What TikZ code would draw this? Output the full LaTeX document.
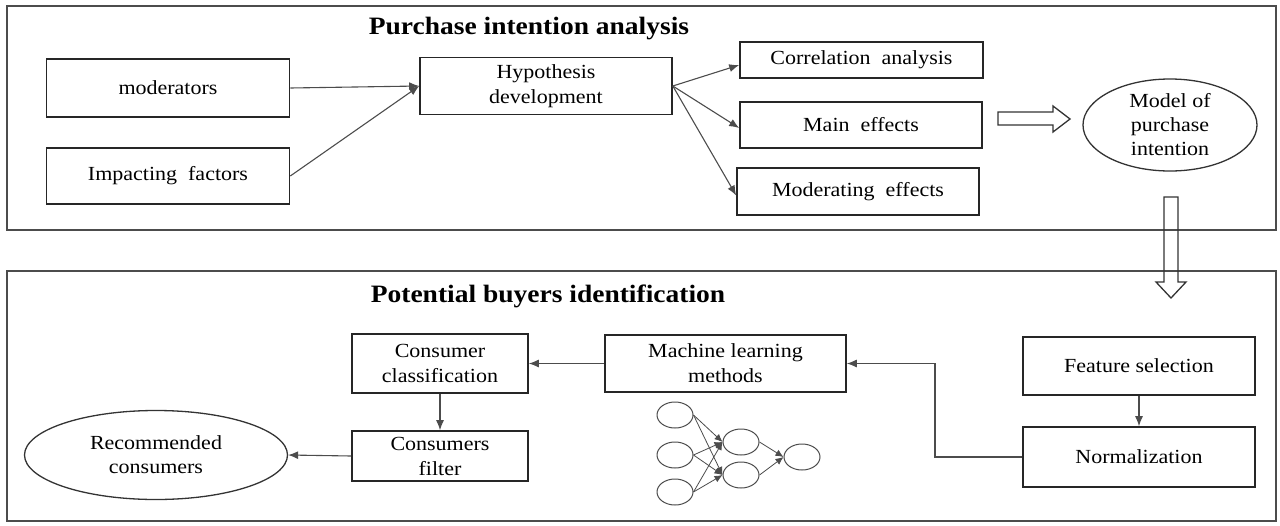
\documentclass[tikz,border=0pt]{standalone}
\usepackage{fontspec}
\setmainfont{Liberation Serif}[FakeStretch=1.1]
\usetikzlibrary{shapes.geometric,arrows.meta}
\begin{document}
\begin{tikzpicture}[x=1pt,y=-1pt,
  box/.style={draw=black!85,line width=1.6pt,fill=white,inner sep=2pt,align=center,font=\fontsize{20}{25}\selectfont},
  oval/.style={ellipse,draw=black!80,line width=1.3pt,inner sep=0pt,align=center,font=\fontsize{20}{24}\selectfont},
  frame/.style={draw=black!70,line width=1.6pt},
  conn/.style={draw=black!70,line width=1.1pt,-{Latex[length=10pt,width=8pt]}},
  title/.style={font=\bfseries\fontsize{25}{28}\selectfont},
  neuron/.style={ellipse,draw=black!70,line width=1pt,minimum width=36pt,minimum height=26pt,inner sep=0pt},
  nn/.style={draw=black!70,line width=0.8pt,-{Latex[length=8pt,width=7pt]}},
  hollow/.style={draw=black!80,line width=1.3pt}]
\useasboundingbox (0,0) rectangle (1280,525);
% frames
\draw[frame] (7,6) rectangle (1276,230);
\draw[frame] (7,271) rectangle (1276,521);
\node[title] (t1) at (529,29) {Purchase intention analysis};
\node[title] (t2) at (548,296) {Potential buyers identification};
% top boxes
\node[box,minimum width=243pt,minimum height=58pt] (mod) at (168,88) {moderators};
\node[box,minimum width=243pt,minimum height=56pt] (imp) at (168,176) {Impacting\ \ factors};
\node[box,minimum width=252pt,minimum height=57pt] (hyp) at (546,86) {Hypothesis\\development};
\node[box,minimum width=243pt,minimum height=36pt] (corr) at (861.5,60) {Correlation\ \ analysis};
\node[box,minimum width=242pt,minimum height=46pt] (main) at (861,125) {Main\ \ effects};
\node[box,minimum width=242pt,minimum height=47pt] (modeff) at (858,191.5) {Moderating\ \ effects};
\node[oval,minimum width=174pt,minimum height=92pt] (model) at (1170,125) {Model of\\purchase\\intention};
\draw[conn] (mod.east) -- (hyp.west);
\draw[conn] (imp.east) -- (hyp.west);
\draw[conn] (hyp.east) -- ([yshift=-5pt]corr.west);
\draw[conn] (hyp.east) -- ([yshift=-3pt]main.west);
\draw[conn] (hyp.east) -- ([yshift=-4pt]modeff.west);
% hollow arrows
\draw[hollow] (998,112) -- (1053,112) -- (1053,106) -- (1070,119) -- (1053,132) -- (1053,125) -- (998,125) -- cycle;
\draw[hollow] (1164,197) -- (1178,197) -- (1178,282) -- (1186,282) -- (1171,298) -- (1156,282) -- (1164,282) -- cycle;
% bottom boxes
\node[box,minimum width=232pt,minimum height=58pt] (feat) at (1139,366) {Feature selection};
\node[box,minimum width=232pt,minimum height=60pt] (norm) at (1139,457) {Normalization};
\node[box,minimum width=241pt,minimum height=57pt] (ml) at (725.5,363.5) {Machine learning\\methods};
\node[box,minimum width=176pt,minimum height=59pt] (cc) at (440,363.5) {Consumer\\classification};
\node[box,minimum width=176pt,minimum height=50pt] (cf) at (440,456) {Consumers\\filter};
\node[oval,minimum width=263pt,minimum height=89pt] (rec) at (156,455) {Recommended\\consumers};
\coordinate (bend1) at (935,457);
\coordinate (bend2) at (935,363.5);
\draw[conn] (feat) -- (norm);
\draw[conn] (norm.west) -- (bend1) -- (bend2) -- (ml.east);
\draw[conn] (ml.west) -- (cc.east);
\draw[conn] (cc) -- (cf);
\draw[conn] (cf.west) -- (rec.east);
% neural net
\node[neuron] (i1) at (675,415) {};
\node[neuron] (i2) at (675,455) {};
\node[neuron] (i3) at (675,492) {};
\node[neuron] (h1) at (741,442) {};
\node[neuron] (h2) at (741,475) {};
\node[neuron] (o1) at (802,457) {};
\foreach \a in {i1,i2,i3}{
  \draw[nn] (\a.east) -- (h1.west);
  \draw[nn] (\a.east) -- (h2.west);
}
\draw[nn] (h1.east) -- (o1.west);
\draw[nn] (h2.east) -- (o1.west);
\end{tikzpicture}
\end{document}
